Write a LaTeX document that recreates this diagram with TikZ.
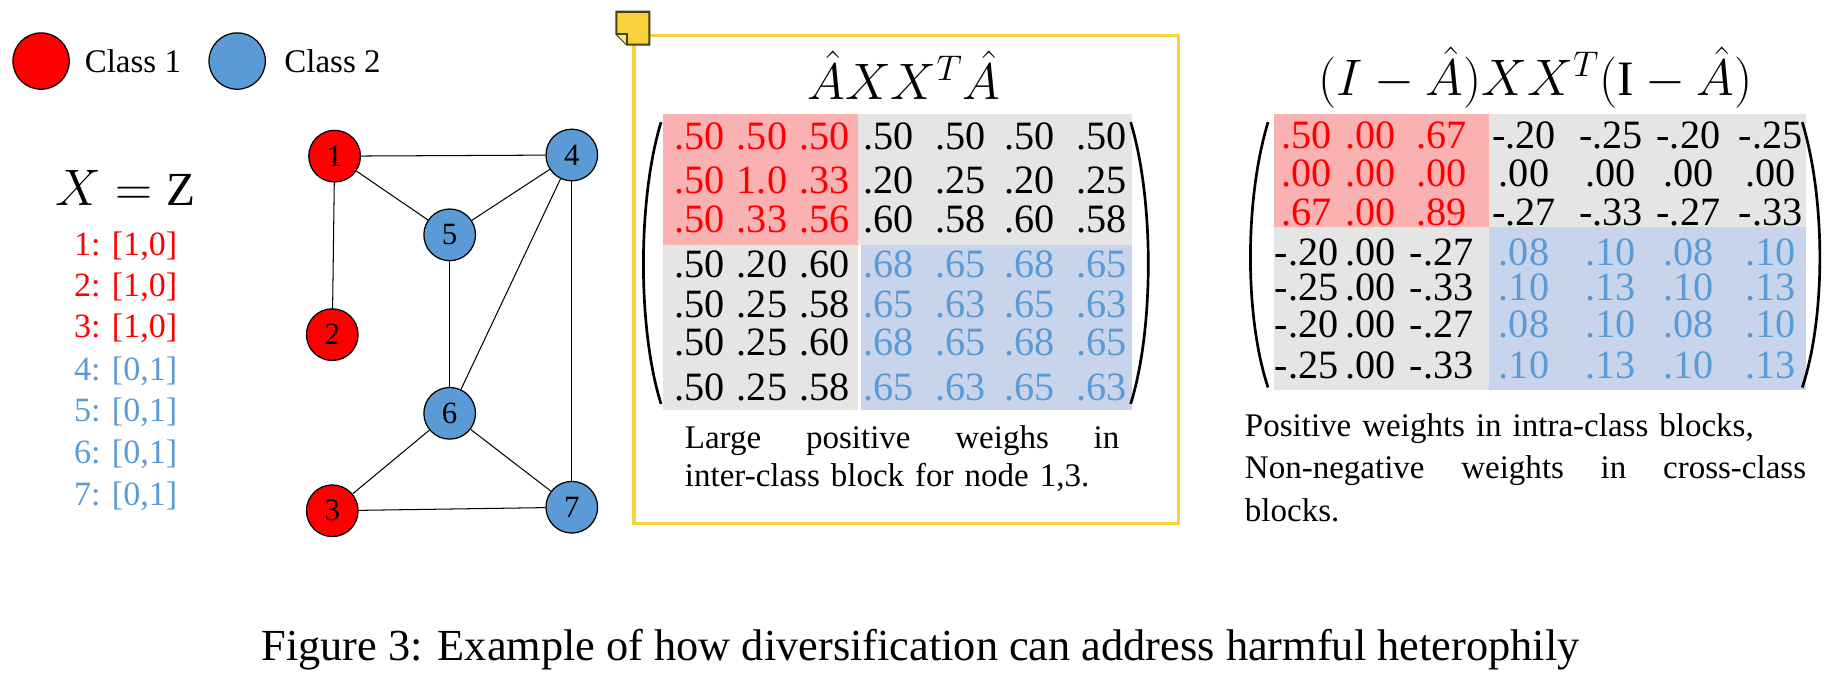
\documentclass[tikz,border=0pt]{standalone}
\usepackage{fontspec}
\setmainfont{Liberation Serif}
\definecolor{cred}{HTML}{FF0000}
\definecolor{cblue}{HTML}{5B9BD5}
\definecolor{fred}{HTML}{F9B1B1}
\definecolor{fgray}{HTML}{E5E5E5}
\definecolor{fblue}{HTML}{C7D4EC}
\definecolor{cyel}{HTML}{F7D23A}
\begin{document}
\begin{tikzpicture}[x=0.02cm,y=-0.02cm,
  gnode/.style={circle,draw=black,line width=0.6pt,minimum size=0.88cm,inner sep=0pt,font=\fontsize{15}{15}\selectfont},
  rnode/.style={gnode,fill=cred},
  bnode/.style={gnode,fill=cblue},
  edge/.style={line width=0.5pt},
  num/.style={font=\fontsize{19.5}{19.5}\selectfont,inner sep=0pt,anchor=center},
  lst/.style={font=\fontsize{16.5}{16.5}\selectfont,inner sep=0pt},
  paren/.style={line width=1.3pt},
  capt/.style={align=left,inner sep=0pt,anchor=north west}]
\useasboundingbox (0,0) rectangle (1568,583);
% legend
\node[rnode,minimum size=0.96cm] (l1) at (35,52) {};
\node[anchor=west,font=\fontsize{16}{16}\selectfont] (lt1) at (66,52) {Class 1};
\node[bnode,minimum size=0.96cm] (l2) at (202,52) {};
\node[anchor=west,font=\fontsize{16}{16}\selectfont] (lt2) at (236,52) {Class 2};
% X = Z
\node[font=\fontsize{23}{23}\selectfont] (xz) at (107,160) {$X=\mathrm{Z}$};
\foreach \i/\y/\v/\c in {1/210/{[1,0]}/cred,2/245/{[1,0]}/cred,3/280/{[1,0]}/cred,4/316/{[0,1]}/cblue,5/351/{[0,1]}/cblue,6/387/{[0,1]}/cblue,7/423/{[0,1]}/cblue}
  \node[lst,text=\c] (x\i) at (107,\y) {\i: \v};
% graph
\node[rnode] (n1) at (285,133) {1};
\node[rnode] (n2) at (283,285) {2};
\node[rnode] (n3) at (283,435) {3};
\node[bnode] (n4) at (487,132) {4};
\node[bnode] (n5) at (383,200) {5};
\node[bnode] (n6) at (383,352) {6};
\node[bnode] (n7) at (487,432) {7};
\foreach \a/\b in {1/4,1/5,1/2,5/4,5/6,4/6,4/7,6/3,6/7,3/7}
  \draw[edge] (n\a) -- (n\b);
% yellow box and note icon
\draw[cyel,line width=1.6pt] (540,446) -- (540,30) -- (1004,30) -- (1004,446) -- cycle;
\draw[fill=cyel,draw=black!70!cyel,line width=1pt] (525,10) -- (553,10) -- (553,38) -- (534,38) -- (525,29) -- cycle;
\draw[draw=black!70!cyel,line width=0.8pt,fill=cyel!60] (525,29) -- (534,29) -- (534,38);
% matrix 1
\node[font=\fontsize{24}{24}\selectfont] (t1) at (770,64) {$\hat{A}XX^{T}\hat{A}$};
\fill[fred] (565,97) rectangle (731,209);
\fill[fgray] (731,97) rectangle (964,209);
\fill[fgray] (565,209) rectangle (731,349);
\fill[fblue] (733,209) rectangle (964,349);
\foreach \r/\y/\row in {1/116/{.50,.50,.50,.50,.50,.50,.50},2/154/{.50,1.0,.33,.20,.25,.20,.25},3/187/{.50,.33,.56,.60,.58,.60,.58},4/225/{.50,.20,.60,.68,.65,.68,.65},5/259/{.50,.25,.58,.65,.63,.65,.63},6/292/{.50,.25,.60,.68,.65,.68,.65},7/330/{.50,.25,.58,.65,.63,.65,.63}}{
  \foreach \v [count=\c] in \row {
    \pgfmathsetmacro{\xx}{{596,649,702,757,818,877,938}[\c-1]}
    \pgfmathparse{int(and(\r<4,\c<4)+2*and(\r>3,\c>3))}
    \ifcase\pgfmathresult\def\col{black}\or\def\col{cred}\or\def\col{cblue}\fi
    \node[num,text=\col] (a\r\c) at (\xx,\y) {\v};
  }}
\draw[paren] (563,104) .. controls (543,170) and (543,280) .. (563,344);
\draw[paren] (963,104) .. controls (983,170) and (983,280) .. (963,344);
\node[capt,font=\fontsize{16}{18.7}\selectfont,text width=7.4cm] (c1) at (583,362) {Large\hfill positive\hfill weighs\hfill in\\inter-class block for node 1,3.};
% matrix 2
\node[font=\fontsize{24}{24}\selectfont] (t2) at (1308,66) {$(I-\hat{A})XX^{T}(\mathrm{I}-\hat{A})$};
\fill[fred] (1085,97) rectangle (1268,193);
\fill[fgray] (1268,97) rectangle (1538,193);
\fill[fgray] (1085,193) rectangle (1268,332);
\fill[fblue] (1268,193) rectangle (1538,332);
\foreach \r/\y/\row in {1/115/{.50,.00,.67,-.20,-.25,-.20,-.25},2/148/{.00,.00,.00,.00,.00,.00,.00},3/181/{.67,.00,.89,-.27,-.33,-.27,-.33},4/215/{-.20,.00,-.27,.08,.10,.08,.10},5/245/{-.25,.00,-.33,.10,.13,.10,.13},6/276/{-.20,.00,-.27,.08,.10,.08,.10},7/311/{-.25,.00,-.33,.10,.13,.10,.13}}{
  \foreach \v [count=\c] in \row {
    \pgfmathsetmacro{\xx}{{1113,1167,1228,1298,1372,1438,1508}[\c-1]}
    \pgfmathparse{int(and(\r<4,\c<4)+2*and(\r>3,\c>3))}
    \ifcase\pgfmathresult\def\col{black}\or\def\col{cred}\or\def\col{cblue}\fi
    \node[num,text=\col] (b\r\c) at (\xx,\y) {\v};
  }}
\draw[paren] (1080,104) .. controls (1060,170) and (1060,270) .. (1080,330);
\draw[paren] (1535,104) .. controls (1555,170) and (1555,270) .. (1535,330);
\node[capt,font=\fontsize{16}{20.5}\selectfont,text width=9.56cm] (c2) at (1060,352) {Positive weights in intra-class blocks,\\Non-negative\hfill weights\hfill in\hfill cross-class\\blocks.};
% figure caption
\node[font=\fontsize{21.5}{21.5}\selectfont] (fc) at (784,553) {Figure 3: Example of how diversification can address harmful heterophily};
\end{tikzpicture}
\end{document}
